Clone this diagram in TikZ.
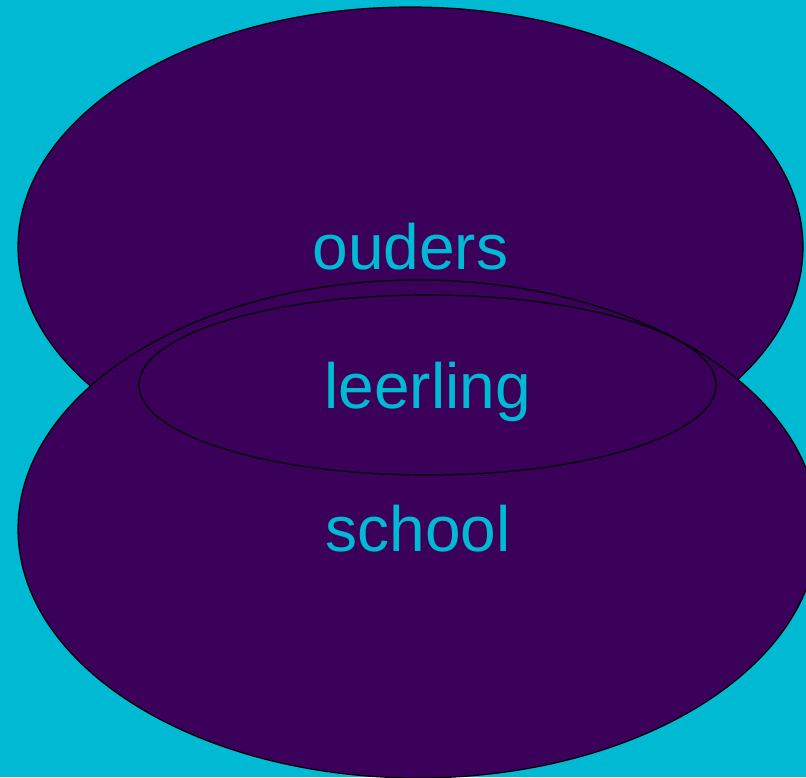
\documentclass[tikz,border=0pt]{standalone}
\usepackage{fontspec}
\setmainfont{Liberation Sans}
\usepackage{tikz}
\usetikzlibrary
  {
    shapes.geometric,         % ellipse nodes
    backgrounds,              % colored background areas
  }

\definecolor{lagoon}{RGB}{0,186,212}
\definecolor{plum}{RGB}{58,0,90}

\tikzset{
  kring/.style={draw=black, line width=1.2pt, fill=plum, ellipse, inner sep=0pt,
    text=lagoon, font=\fontsize{64}{70}\selectfont},
}

\begin{document}
\begin{tikzpicture}[x=1pt, y=-1pt]
    \fill [lagoon] (0,0) rectangle (806,777);
    \useasboundingbox (0,0) rectangle (806,777);
    \clip (0,0) rectangle (806,777);

    \node (ouders) [kring, minimum width=785, minimum height=480] at (410.5,247) {ouders};
    \node (school) [kring, minimum width=800, minimum height=498] at (418,529) {school};
    \node (leerling) [kring, text depth=0pt, minimum width=577, minimum height=180] at (427.5,385) {leerling};
  \end{tikzpicture}
\end{document}
